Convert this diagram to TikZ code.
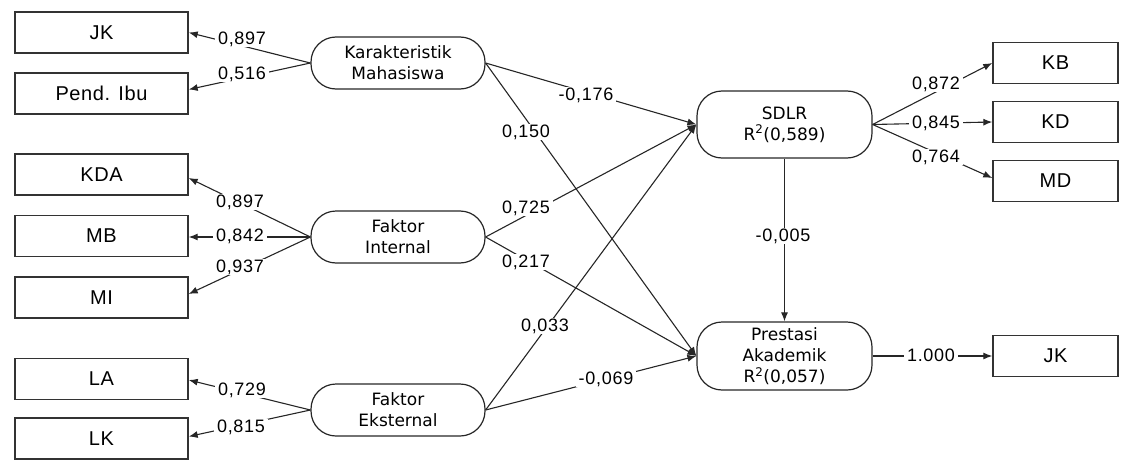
\documentclass[tikz,border=0pt]{standalone}
\usepackage{fontspec}
\setmainfont{Liberation Sans}
\newfontfamily\ellfont{DejaVu Sans}
\newfontfamily\numfont[LetterSpace=4]{Liberation Sans}
\newfontfamily\boxfont[LetterSpace=3]{Liberation Sans}
\usetikzlibrary{arrows.meta,calc}
\begin{document}
\begin{tikzpicture}[x=1pt,y=-1pt,
  ind/.style={draw=black!80, line width=1.4pt, minimum width=173pt, minimum height=41pt, inner sep=0pt, font=\boxfont\fontsize{20}{24}\selectfont},
  lat/.style={draw=black!85, line width=1.2pt, rounded corners=25pt, minimum width=174pt, minimum height=52pt, align=center, inner sep=0pt, font=\ellfont\fontsize{17}{21}\selectfont},
  con/.style={line width=1.1pt, draw=black!85, -{Latex[length=9pt,width=7pt]}},
  lbl/.style={fill=white, inner xsep=3pt, inner ysep=0.5pt, font=\numfont\fontsize{18}{20}\selectfont}
]
\useasboundingbox (0,0) rectangle (1121,460);
% indicators left
\node[ind] (jk) at (101.5,32.5) {JK};
\node[ind] (pend) at (101.5,93.5) {Pend. Ibu};
\node[ind] (kda) at (101.5,174.5) {KDA};
\node[ind] (mb) at (101.5,236) {MB};
\node[ind] (mi) at (101.5,297.5) {MI};
\node[ind] (la) at (101.5,379) {LA};
\node[ind] (lk) at (101.5,438.5) {LK};
% indicators right
\node[ind, minimum width=125pt] (kb) at (1055.5,63) {KB};
\node[ind, minimum width=125pt] (kd) at (1055.5,122) {KD};
\node[ind, minimum width=125pt] (md) at (1055.5,181) {MD};
\node[ind, minimum width=125pt] (jk2) at (1055.5,356) {JK};
% latent variables
\node[lat] (kar) at (398,63) {Karakteristik\\Mahasiswa};
\node[lat] (int) at (398,237) {Faktor\\Internal};
\node[lat] (eks) at (398,410) {Faktor\\Eksternal};
\node[lat, minimum width=175pt, minimum height=67pt] (sdlr) at (784.5,124.5) {SDLR\\R\textsuperscript{2}(0,589)};
\node[lat, minimum width=175pt, minimum height=68pt] (pa) at (784.5,356) {Prestasi\\Akademik\\R\textsuperscript{2}(0,057)};
% outer loadings
\draw[con] (kar.west) -- (jk.east);
\draw[con] (kar.west) -- ($(pend.east)+(0,-4)$);
\draw[con] (int.west) -- ($(kda.east)+(0,3.5)$);
\draw[con] (int.west) -- ($(mb.east)+(0,1)$);
\draw[con] (int.west) -- ($(mi.east)+(0,-3.5)$);
\draw[con] (eks.west) -- ($(la.east)+(0,1)$);
\draw[con] (eks.west) -- ($(lk.east)+(0,-2)$);
\draw[con] (sdlr.east) -- (kb.west);
\draw[con] (sdlr.east) -- (kd.west);
\draw[con] (sdlr.east) -- ($(md.west)+(0,-3)$);
\draw[con] (pa.east) -- (jk2.west);
% structural paths
\draw[con] (kar.east) -- (sdlr.west);
\draw[con] (kar.east) -- (pa.west);
\draw[con] (int.east) -- (sdlr.west);
\draw[con] (int.east) -- (pa.west);
\draw[con] (eks.east) -- (sdlr.west);
\draw[con] (eks.east) -- (pa.west);
\draw[con] (sdlr.south) -- (pa.north);
% labels
\node[lbl] (l1) at (242,39) {0,897};
\node[lbl] (l2) at (242,74) {0,516};
\node[lbl] (l3) at (240,202) {0,897};
\node[lbl] (l4) at (240,236) {0,842};
\node[lbl] (l5) at (240,267) {0,937};
\node[lbl] (l6) at (242,390) {0,729};
\node[lbl] (l7) at (241,427) {0,815};
\node[lbl] (l8) at (936,84) {0,872};
\node[lbl] (l9) at (936,123) {0,845};
\node[lbl] (l10) at (936,157) {0,764};
\node[lbl] (l11) at (931,355) {1.000};
\node[lbl] (l12) at (586,95) {-0,176};
\node[lbl] (l13) at (526,132) {0,150};
\node[lbl] (l14) at (526,208) {0,725};
\node[lbl] (l15) at (526,262) {0,217};
\node[lbl] (l16) at (545,326) {0,033};
\node[lbl] (l17) at (606,379) {-0,069};
\node[lbl] (l18) at (783,236) {-0,005};
\end{tikzpicture}
\end{document}
